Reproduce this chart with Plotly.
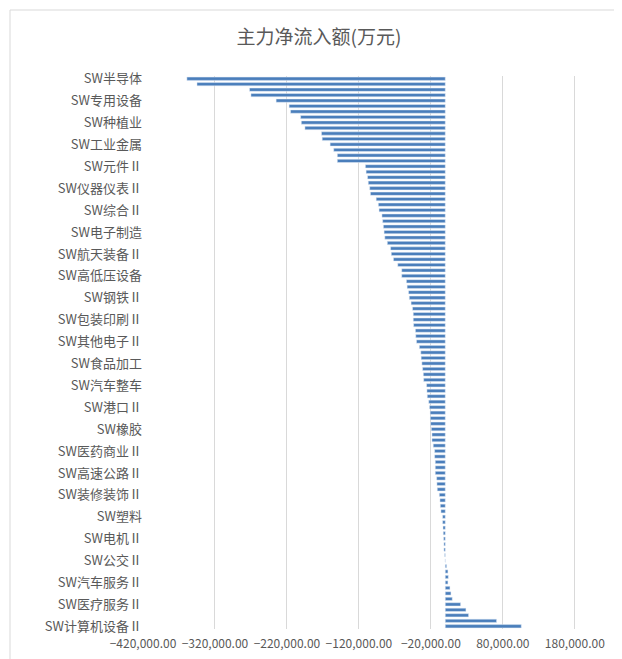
import plotly.graph_objects as go

shown = {0:"SW半导体",4:"SW专用设备",8:"SW种植业",12:"SW工业金属",16:"SW元件Ⅱ",20:"SW仪器仪表Ⅱ",
 24:"SW综合Ⅱ",28:"SW电子制造",32:"SW航天装备Ⅱ",36:"SW高低压设备",40:"SW钢铁Ⅱ",44:"SW包装印刷Ⅱ",
 48:"SW其他电子Ⅱ",52:"SW食品加工",56:"SW汽车整车",60:"SW港口Ⅱ",64:"SW橡胶",68:"SW医药商业Ⅱ",
 72:"SW高速公路Ⅱ",76:"SW装修装饰Ⅱ",80:"SW塑料",84:"SW电机Ⅱ",88:"SW公交Ⅱ",92:"SW汽车服务Ⅱ",
 96:"SW医疗服务Ⅱ",100:"SW计算机设备Ⅱ"}
others = ["通信设备","通信运营Ⅱ","光学光电子","电源设备","电气自动化设备","化学制药","生物制品Ⅱ","中药Ⅱ",
 "医疗器械Ⅱ","计算机应用","文化传媒","营销传播","互联网传媒","证券Ⅱ","银行Ⅱ","保险Ⅱ","多元金融Ⅱ",
 "房地产开发Ⅱ","园区开发Ⅱ","基础建设","专业工程","房屋建设Ⅱ","水泥制造Ⅱ","玻璃制造Ⅱ","其他建材Ⅱ",
 "化学原料","化学制品","化学纤维","石油化工","煤炭开采Ⅱ","其他采掘Ⅱ","采掘服务Ⅱ","石油开采Ⅱ",
 "金属非金属新材料","稀有金属","黄金Ⅱ","通用机械","金属制品Ⅱ","运输设备Ⅱ","地面兵装Ⅱ","航空装备Ⅱ",
 "船舶制造Ⅱ","汽车零部件Ⅱ","其他交运设备Ⅱ","白色家电","视听器材","饮料制造","农产品加工","饲料Ⅱ",
 "畜禽养殖Ⅱ","渔业","林业Ⅱ","动物保健Ⅱ","农业综合Ⅱ","纺织制造","服装家纺","造纸Ⅱ","家用轻工",
 "其他轻工制造Ⅱ","电力","水务Ⅱ","燃气Ⅱ","环保工程及服务Ⅱ","机场Ⅱ","航运Ⅱ","物流Ⅱ","铁路运输Ⅱ",
 "一般零售","专业零售","商业物业经营","贸易Ⅱ","景点","酒店Ⅱ","旅游综合Ⅱ","餐饮Ⅱ"]

values = [-359000,-345000,-272000,-270000,-235000,-217000,-215000,-201000,-200000,-195000,
 -172000,-171000,-160000,-155000,-150000,-150000,-111000,-110000,-108000,-107000,
 -105000,-104000,-96000,-93000,-92000,-88000,-87000,-86000,-85000,-84000,
 -80500,-76000,-75000,-72000,-66000,-60500,-60500,-54000,-53000,-51000,
 -50000,-47500,-45500,-44500,-44500,-44000,-41500,-41000,-40000,-36000,
 -34000,-33500,-32500,-31500,-30500,-30000,-26000,-25500,-25000,-23000,-22000,-21000,
 -20800,-20400,-19400,-18500,-18500,-16700,-14800,-14800,-13900,-13900,-13900,-12000,
 -11600,-11100,-8300,-7400,-6900,-6000,-3700,-3700,-3200,-2800,-2300,-1900,-1900,
 -900,-300,
 1900,3700,4200,3700,6500,7900,9700,21300,28700,32400,71300,105600]

it = iter(others)
categories = [shown[i] if i in shown else "SW" + next(it) for i in range(len(values))]
tick_labels = [shown[i] for i in sorted(shown)]
x_ticks = list(range(-420000, 180001, 100000))

fig = go.Figure(go.Bar(x=values, y=categories, orientation="h", marker_color="#4a7ebb", width=0.6))
fig.update_layout(
    width=622, height=659, paper_bgcolor="white", plot_bgcolor="white",
    margin=dict(l=135, r=12, t=68, b=38),
    title=dict(text="主力净流入额(万元)", x=0.5, xanchor="center", y=0.965,
               font=dict(size=19, color="#595959", family="Noto Sans CJK SC")),
    font=dict(family="Noto Sans CJK SC", color="#595959", size=13),
    showlegend=False, bargap=0.4,
    shapes=[dict(type="rect", xref="paper", yref="paper", x0=-133/475, x1=1+10/475, y0=-36/553, y1=1+66/553,
                 line=dict(color="#d9d9d9", width=1))],
)
fig.update_xaxes(range=[-420000, 240000], tickvals=x_ticks, tickformat=",.2f", showgrid=True,
                 gridcolor="#d9d9d9", gridwidth=1, zeroline=False, tickfont=dict(size=12),
                 automargin=False, ticklen=4, tickcolor="white", ticks="outside")
fig.update_yaxes(autorange="reversed", tickmode="array", tickvals=tick_labels, ticktext=tick_labels,
                 showgrid=False, ticks="", tickfont=dict(size=13), automargin=False)
fig.write_html("out.html")
